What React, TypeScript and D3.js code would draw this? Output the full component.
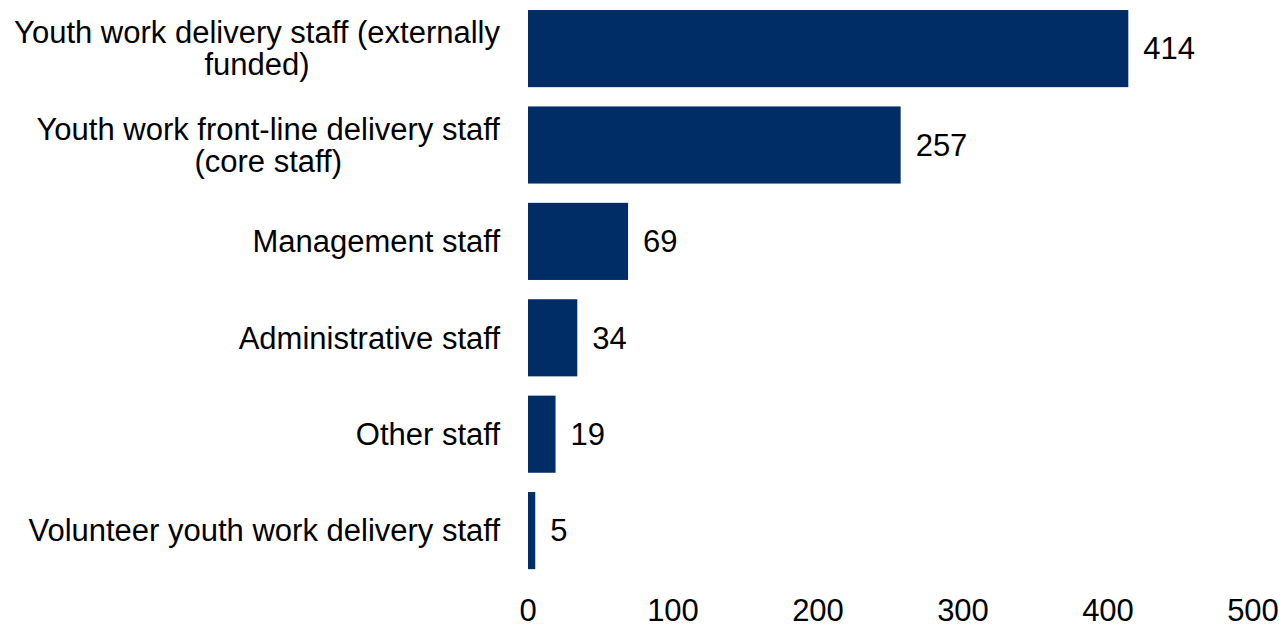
import React from "react";
import * as d3 from "d3";

const categories: string[][] = [
  ["Youth work delivery staff (externally", "funded)"],
  ["Youth work front-line delivery staff", "(core staff)"],
  ["Management staff"],
  ["Administrative staff"],
  ["Other staff"],
  ["Volunteer youth work delivery staff"],
];
const values: number[] = [414, 257, 69, 34, 19, 5];
const xTicks: number[] = [0, 100, 200, 300, 400, 500];

const W = 1281;
const H = 627;
const FONT = "'Liberation Sans', Arial, sans-serif";
const FS = 31;
const COLOR = "#002D66";
const LABEL_RIGHT = 500;

let ctx: CanvasRenderingContext2D | null = null;
function measure(s: string): number {
  if (!ctx) {
    const c = document.createElement("canvas");
    ctx = c.getContext("2d");
  }
  if (!ctx) return s.length * FS * 0.5;
  ctx.font = `${FS}px ${FONT}`;
  return ctx.measureText(s).width;
}

export default function App() {
  const keys = categories.map((c, i) => String(i));
  const x = d3.scaleLinear().domain([0, 500]).range([528, 1253]);
  const y = d3
    .scaleBand<string>()
    .domain(keys)
    .range([0.4, 578.8])
    .paddingInner(0.2)
    .paddingOuter(0.1);

  return (
    <svg
      width={W}
      height={H}
      style={{ display: "block", position: "absolute", left: 0, top: 0, background: "#fff" }}
      fontFamily={FONT}
    >
      <rect x={0} y={0} width={W} height={H} fill="#fff" />
      {values.map((v, i) => {
        const yy = y(String(i))!;
        const bw = y.bandwidth();
        const cy = yy + bw / 2;
        const lines = categories[i];
        const lh = 32;
        const maxW = Math.max(...lines.map(measure));
        const cx = LABEL_RIGHT - maxW / 2;
        return (
          <g key={i}>
            <rect x={x(0)} y={yy} width={x(v) - x(0)} height={bw} fill={COLOR} />
            <text x={x(v) + 15} y={cy} dy="0.35em" fontSize={FS} fill="#000">
              {v}
            </text>
            {lines.map((ln, j) => (
              <text
                key={j}
                x={lines.length > 1 ? cx : LABEL_RIGHT}
                y={cy + (j - (lines.length - 1) / 2) * lh}
                dy="0.35em"
                fontSize={FS}
                fill="#000"
                textAnchor={lines.length > 1 ? "middle" : "end"}
              >
                {ln}
              </text>
            ))}
          </g>
        );
      })}
      {xTicks.map((t) => (
        <text
          key={t}
          x={x(t)}
          y={610}
          dy="0.35em"
          fontSize={FS}
          fill="#000"
          textAnchor="middle"
        >
          {t}
        </text>
      ))}
    </svg>
  );
}
